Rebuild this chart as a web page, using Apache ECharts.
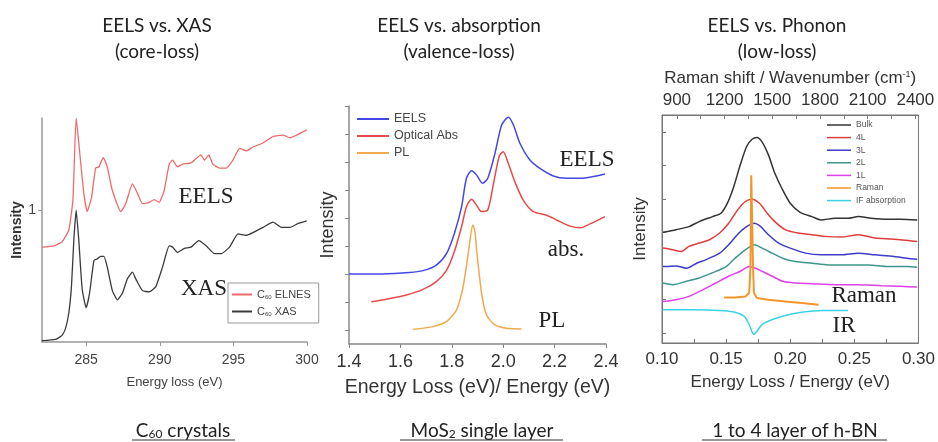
<!DOCTYPE html>
<html>
<head>
<meta charset="utf-8">
<script src="https://cdn.jsdelivr.net/npm/echarts@6/dist/echarts.min.js"></script>
<style>
  html, body { margin: 0; padding: 0; background: #fff; }
  #main { width: 938px; height: 442px; }
</style>
</head>
<body>
<div id="main"></div>
<script>
// ---- panel 1: C60 core-loss (energy loss eV, intensity) ----
const elnesE = [282.0, 282.8, 283.36, 283.82, 284.1, 284.32, 284.55, 284.84, 285.07, 285.37, 285.64, 285.87, 286.16, 286.43, 286.78, 287.35, 287.69, 288.14, 288.48, 288.82, 289.28, 289.62, 289.96, 290.3, 290.64, 290.87, 291.21, 291.55, 292.12, 292.8, 293.03, 293.33, 293.6, 294.06, 294.51, 294.97, 295.42, 295.88, 296.33, 297.01, 297.7, 298.38, 298.84, 299.29, 299.98];
const elnesI = [0.72, 0.73, 0.76, 0.85, 1.08, 1.70, 1.45, 1.13, 0.99, 1.10, 1.32, 1.33, 1.40, 1.33, 1.15, 0.99, 1.05, 1.20, 1.13, 1.05, 1.06, 1.08, 1.06, 1.15, 1.35, 1.38, 1.33, 1.35, 1.36, 1.42, 1.38, 1.42, 1.35, 1.32, 1.32, 1.38, 1.47, 1.45, 1.48, 1.51, 1.56, 1.57, 1.55, 1.57, 1.61];
const xasE = [282.0, 282.92, 283.36, 283.59, 283.82, 284.0, 284.16, 284.32, 284.5, 284.73, 285.0, 285.23, 285.53, 285.75, 285.98, 286.21, 286.43, 286.78, 287.12, 287.46, 287.8, 288.14, 288.41, 288.82, 289.28, 289.73, 290.19, 290.64, 290.87, 291.21, 291.67, 292.12, 292.65, 293.15, 293.72, 294.17, 294.74, 295.31, 295.88, 296.33, 297.01, 297.7, 298.27, 298.84, 299.4, 299.98];
const xasI = [0.01, 0.02, 0.05, 0.10, 0.22, 0.42, 0.77, 1.0, 0.77, 0.40, 0.26, 0.37, 0.62, 0.63, 0.65, 0.65, 0.57, 0.39, 0.32, 0.37, 0.48, 0.53, 0.47, 0.39, 0.38, 0.42, 0.57, 0.73, 0.72, 0.68, 0.71, 0.72, 0.77, 0.73, 0.67, 0.67, 0.72, 0.82, 0.81, 0.83, 0.87, 0.91, 0.87, 0.87, 0.90, 0.92];
const p1XTicks = [285, 290, 295, 300];

// ---- panel 2: MoS2 valence-loss ----
const mosEelsE = [1.40, 1.45, 1.53, 1.636, 1.688, 1.74, 1.78, 1.81, 1.838, 1.857, 1.877, 1.896, 1.92, 1.94, 1.968, 1.994, 2.02, 2.04, 2.065, 2.104, 2.143, 2.195, 2.247, 2.30, 2.35, 2.396];
const mosEelsI = [2.0, 2.0, 2.0, 2.05, 2.12, 2.32, 2.74, 3.45, 4.4, 5.42, 5.69, 5.54, 5.24, 5.42, 6.31, 7.32, 7.6, 7.32, 6.67, 6.07, 5.77, 5.5, 5.42, 5.42, 5.48, 5.57];
const mosAbsE = [1.487, 1.545, 1.623, 1.688, 1.74, 1.78, 1.81, 1.838, 1.857, 1.877, 1.896, 1.915, 1.94, 1.96, 1.984, 2.0, 2.02, 2.045, 2.078, 2.117, 2.169, 2.208, 2.26, 2.30, 2.338, 2.396];
const mosAbsI = [1.01, 1.1, 1.25, 1.45, 1.73, 2.14, 2.8, 3.69, 4.4, 4.67, 4.46, 4.23, 4.29, 5.12, 6.19, 6.37, 5.95, 5.3, 4.64, 4.23, 4.1, 3.93, 3.71, 3.65, 3.79, 4.05];
const mosPlE = [1.649, 1.727, 1.779, 1.818, 1.844, 1.864, 1.882, 1.89, 1.898, 1.916, 1.935, 1.968, 2.013, 2.071];
const mosPlI = [0.02, 0.12, 0.3, 0.71, 1.55, 2.74, 3.75, 3.5, 2.74, 1.31, 0.54, 0.18, 0.06, 0.04];
const p2YTicks = [0, 1, 2, 3, 4, 5, 6, 7, 8];

// ---- panel 3: h-BN low-loss ----
const bulkE = [0.1008, 0.111, 0.121, 0.129, 0.1394, 0.146, 0.151, 0.156, 0.161, 0.166, 0.170, 0.174, 0.178, 0.183, 0.188, 0.194, 0.2, 0.208, 0.217, 0.224, 0.235, 0.245, 0.253, 0.263, 0.276, 0.286, 0.299];
const bulkI = [3.0, 3.08, 3.17, 3.32, 3.47, 3.57, 3.87, 4.37, 5.01, 5.56, 5.77, 5.83, 5.70, 5.31, 4.76, 4.27, 3.87, 3.59, 3.47, 3.37, 3.42, 3.42, 3.47, 3.42, 3.39, 3.39, 3.37];
const l4E = [0.1008, 0.1085, 0.115, 0.121, 0.129, 0.137, 0.145, 0.152, 0.159, 0.165, 0.170, 0.176, 0.182, 0.188, 0.196, 0.206, 0.217, 0.227, 0.24, 0.253, 0.266, 0.279, 0.292, 0.299];
const l4I = [2.53, 2.48, 2.43, 2.58, 2.68, 2.78, 2.98, 3.27, 3.67, 3.92, 3.99, 3.87, 3.57, 3.32, 3.08, 2.98, 2.93, 2.88, 2.86, 2.93, 2.83, 2.80, 2.76, 2.73];
const l3E = [0.1008, 0.111, 0.119, 0.127, 0.134, 0.145, 0.152, 0.16, 0.166, 0.172, 0.177, 0.183, 0.191, 0.2, 0.212, 0.224, 0.24, 0.253, 0.266, 0.281, 0.291, 0.299];
const l3I = [1.98, 2.0, 1.93, 2.08, 2.18, 2.38, 2.63, 2.98, 3.17, 3.27, 3.17, 2.93, 2.68, 2.53, 2.38, 2.33, 2.33, 2.38, 2.33, 2.28, 2.23, 2.2];
const l2E = [0.1008, 0.1085, 0.119, 0.129, 0.139, 0.15, 0.157, 0.165, 0.172, 0.178, 0.186, 0.194, 0.204, 0.217, 0.23, 0.245, 0.261, 0.276, 0.291, 0.299];
const l2I = [1.49, 1.44, 1.54, 1.64, 1.79, 1.98, 2.23, 2.48, 2.63, 2.53, 2.38, 2.23, 2.13, 2.08, 2.03, 2.03, 2.03, 1.98, 1.98, 1.96];
const l1E = [0.1008, 0.111, 0.121, 0.132, 0.142, 0.152, 0.161, 0.168, 0.173, 0.178, 0.186, 0.194, 0.204, 0.217, 0.235, 0.253, 0.271, 0.286, 0.299];
const l1I = [0.94, 0.99, 1.09, 1.29, 1.49, 1.69, 1.84, 1.98, 1.93, 1.84, 1.69, 1.54, 1.49, 1.47, 1.44, 1.44, 1.41, 1.39, 1.37];
const ramanE = [0.1485, 0.157, 0.165, 0.168, 0.169, 0.1696, 0.1703, 0.171, 0.1717, 0.174, 0.183, 0.196, 0.209, 0.222];
const ramanI = [1.06, 1.06, 1.09, 1.19, 1.98, 4.7, 4.7, 1.98, 1.19, 1.04, 0.99, 0.94, 0.89, 0.84];
const irE = [0.1008, 0.124, 0.145, 0.157, 0.164, 0.168, 0.1717, 0.174, 0.178, 0.186, 0.196, 0.209, 0.225, 0.245];
const irI = [0.69, 0.69, 0.67, 0.62, 0.50, 0.25, -0.05, 0.05, 0.25, 0.40, 0.52, 0.62, 0.67, 0.67];
const p3XTicks = [0.1, 0.125, 0.15, 0.175, 0.2, 0.225, 0.25, 0.275, 0.3];
const p3XLabels = [0.1, 0.15, 0.2, 0.25, 0.3];
const p3TopTicks = [900, 1050, 1200, 1350, 1500, 1650, 1800, 1950, 2100, 2250, 2400];
const p3TopLabels = [900, 1200, 1500, 1800, 2100, 2400];
const p3YTicks = [0, 1, 2, 3, 4, 5, 6];

const pairs = (xs, ys) => xs.map((x, i) => [x, ys[i]]);

const SANS = "'Liberation Sans', Arial, sans-serif";
const NARROW = "'Liberation Sans Narrow', 'Arial Narrow', 'Liberation Sans', sans-serif";
const SERIF = "'Liberation Serif', 'Times New Roman', serif";
const TITLE = "Lato, 'Open Sans', sans-serif";

const chart = echarts.init(document.getElementById('main'));

function line(name, xi, yi, data, color, width, smooth) {
  return {
    name: name,
    type: 'line',
    xAxisIndex: xi,
    yAxisIndex: yi,
    data: data,
    showSymbol: false,
    smooth: smooth === undefined ? 0.25 : smooth,
    lineStyle: { color: color, width: width || 1.5 },
    itemStyle: { color: color },
    emphasis: { disabled: true },
    z: 3
  };
}

function text(str, x, y, font, extra) {
  return {
    type: 'text',
    x: x,
    y: y,
    style: Object.assign({
      text: str,
      font: font,
      fill: '#222',
      textAlign: 'center',
      textVerticalAlign: 'middle'
    }, extra || {})
  };
}

function underline(x1, x2, y) {
  return { type: 'line', shape: { x1: x1, y1: y, x2: x2, y2: y }, style: { stroke: '#333', lineWidth: 1.2 } };
}

const subRich = {
  a: { font: '19px ' + TITLE, fill: '#222' },
  s: { font: '12px ' + TITLE, fill: '#222', verticalAlign: 'bottom', padding: [7, 0, 0, 0] }
};

const option = {
  backgroundColor: '#fff',
  animation: false,
  grid: [
    { left: 42, top: 118, width: 265, height: 224 },
    { left: 349, top: 106, width: 257, height: 238 },
    { left: 662, top: 115, width: 259, height: 228, show: true, borderColor: '#777', borderWidth: 1, backgroundColor: 'transparent' }
  ],
  xAxis: [
    {
      gridIndex: 0, type: 'value', min: 282, max: 300,
      axisLine: { onZero: false, lineStyle: { color: '#999', width: 1.5 } },
      axisTick: { customValues: p1XTicks, length: 4, lineStyle: { color: '#999' } },
      axisLabel: { customValues: p1XTicks, margin: 11, color: '#444', fontFamily: NARROW, fontSize: 14 },
      splitLine: { show: false },
      name: 'Energy loss (eV)', nameLocation: 'middle', nameGap: 34,
      nameTextStyle: { color: '#444', fontFamily: NARROW, fontSize: 13 }
    },
    {
      gridIndex: 1, type: 'value', min: 1.4, max: 2.4, interval: 0.2,
      axisLine: { onZero: false, lineStyle: { color: '#888', width: 1.5 } },
      axisTick: { length: 4, lineStyle: { color: '#888' } },
      axisLabel: { margin: 9, color: '#333', fontFamily: SANS, fontSize: 18, formatter: v => v.toFixed(1) },
      splitLine: { show: false },
      name: 'Energy Loss (eV)/ Energy (eV)', nameLocation: 'middle', nameGap: 34,
      nameTextStyle: { color: '#333', fontFamily: SANS, fontSize: 19.5 }
    },
    {
      gridIndex: 2, type: 'value', min: 0.1, max: 0.3,
      axisLine: { onZero: false, lineStyle: { color: '#777' } },
      axisTick: { customValues: p3XTicks, inside: true, length: 4, lineStyle: { color: '#777' } },
      axisLabel: { customValues: p3XLabels, margin: 8, color: '#333', fontFamily: SANS, fontSize: 17, formatter: v => v.toFixed(2) },
      splitLine: { show: false },
      name: 'Energy Loss / Energy (eV)', nameLocation: 'middle', nameGap: 31,
      nameTextStyle: { color: '#333', fontFamily: SANS, fontSize: 17 }
    },
    {
      gridIndex: 2, type: 'value', position: 'top', min: 806.5, max: 2419.6,
      axisLine: { onZero: false, lineStyle: { color: '#777' } },
      axisTick: { customValues: p3TopTicks, inside: true, length: 4, lineStyle: { color: '#777' } },
      axisLabel: { customValues: p3TopLabels, margin: 6, color: '#333', fontFamily: SANS, fontSize: 17, formatter: v => String(v) },
      splitLine: { show: false },
      name: '{n|Raman shift / Wavenumber (cm}{p|-1}{n|)}', nameLocation: 'middle', nameGap: 27,
      nameTextStyle: {
        rich: {
          n: { color: '#333', fontFamily: SANS, fontSize: 17 },
          p: { color: '#333', fontFamily: SANS, fontSize: 9, verticalAlign: 'top', padding: [0, 0, 8, 0] }
        }
      }
    }
  ],
  yAxis: [
    {
      gridIndex: 0, type: 'value', min: 0, max: 1.7,
      axisLine: { show: true, onZero: false, lineStyle: { color: '#999', width: 1.5 } },
      axisTick: { show: true, customValues: [1], length: 4, lineStyle: { color: '#999' } },
      axisLabel: { customValues: [1], margin: 6, color: '#444', fontFamily: NARROW, fontSize: 14 },
      splitLine: { show: false },
      name: 'Intensity', nameLocation: 'middle', nameGap: 17,
      nameTextStyle: { color: '#333', fontFamily: NARROW, fontSize: 14, fontWeight: 'bold' }
    },
    {
      gridIndex: 1, type: 'value', min: -0.5, max: 8,
      axisLine: { show: true, onZero: false, lineStyle: { color: '#888', width: 1.5 } },
      axisTick: { show: true, customValues: p2YTicks, length: 4, lineStyle: { color: '#888' } },
      axisLabel: { show: false },
      splitLine: { show: false },
      name: 'Intensity', nameLocation: 'middle', nameGap: 12,
      nameTextStyle: { color: '#333', fontFamily: SANS, fontSize: 18 }
    },
    {
      gridIndex: 2, type: 'value', min: -0.3, max: 6.5,
      axisLine: { show: true, onZero: false, lineStyle: { color: '#777' } },
      axisTick: { show: true, customValues: p3YTicks, inside: true, length: 4, lineStyle: { color: '#777' } },
      axisLabel: { show: false },
      splitLine: { show: false },
      name: 'Intensity', nameLocation: 'middle', nameGap: 13,
      nameTextStyle: { color: '#333', fontFamily: SANS, fontSize: 17 }
    }
  ],
  legend: [
    {
      data: ['C60 ELNES', 'C60 XAS'],
      orient: 'vertical', left: 228, top: 283, width: 70,
      padding: [6, 8, 6, 4], itemGap: 6,
      borderColor: '#999', borderWidth: 1, backgroundColor: '#fff',
      icon: 'rect', itemWidth: 20, itemHeight: 2,
      selectedMode: false,
      formatter: name => '{t|C}{s|60}{t|' + name.slice(3) + '}',
      textStyle: {
        color: '#444',
        rich: {
          t: { fontFamily: NARROW, fontSize: 11, color: '#444' },
          s: { fontFamily: NARROW, fontSize: 6, color: '#444', verticalAlign: 'bottom', padding: [4, 0, 0, 0] }
        }
      }
    },
    {
      data: ['EELS', 'Optical Abs', 'PL'],
      orient: 'vertical', left: 357, top: 112,
      padding: 0, itemGap: 3,
      icon: 'rect', itemWidth: 32, itemHeight: 2,
      selectedMode: false,
      textStyle: { color: '#444', fontFamily: SANS, fontSize: 12.5, lineHeight: 14 }
    },
    {
      data: ['Bulk', '4L', '3L', '2L', '1L', 'Raman', 'IF absorption'],
      orient: 'vertical', left: 827, top: 120,
      padding: 0, itemGap: 2.6,
      icon: 'rect', itemWidth: 24, itemHeight: 1.5,
      selectedMode: false,
      textStyle: { color: '#555', fontFamily: SANS, fontSize: 8.5, lineHeight: 10 }
    }
  ],
  series: [
    line('C60 ELNES', 0, 0, pairs(elnesE, elnesI), '#f06a6a', 1.3, 0.15),
    line('C60 XAS', 0, 0, pairs(xasE, xasI), '#3a3a3a', 1.3, 0.15),
    line('EELS', 1, 1, pairs(mosEelsE, mosEelsI), '#4646e6'),
    line('Optical Abs', 1, 1, pairs(mosAbsE, mosAbsI), '#e64a4a'),
    line('PL', 1, 1, pairs(mosPlE, mosPlI), '#f2a84e'),
    line('Bulk', 2, 2, pairs(bulkE, bulkI), '#333333'),
    line('4L', 2, 2, pairs(l4E, l4I), '#e03c3c'),
    line('3L', 2, 2, pairs(l3E, l3I), '#3c3cc8'),
    line('2L', 2, 2, pairs(l2E, l2I), '#3c968c'),
    line('1L', 2, 2, pairs(l1E, l1I), '#e040e8'),
    line('Raman', 2, 2, pairs(ramanE, ramanI), '#f0962a', 2, false),
    line('IF absorption', 2, 2, pairs(irE, irI), '#3cd2e6')
  ],
  graphic: [
    text('EELS vs. XAS', 157, 26, '19px ' + TITLE),
    text('(core-loss)', 157, 52, '19px ' + TITLE),
    text('EELS vs. absorption', 459, 26, '19px ' + TITLE),
    text('(valence-loss)', 459, 52, '19px ' + TITLE),
    text('EELS vs. Phonon', 777, 26, '19px ' + TITLE),
    text('(low-loss)', 777, 52, '19px ' + TITLE),

    text('EELS', 206, 197, '23px ' + SERIF),
    text('XAS', 204, 289, '23px ' + SERIF),
    text('EELS', 587, 160, '23px ' + SERIF),
    text('abs.', 566, 250, '23px ' + SERIF),
    text('PL', 552, 321, '23px ' + SERIF),
    text('Raman', 864, 296, '23px ' + SERIF),
    text('IR', 844, 326, '23px ' + SERIF),

    text('{a|C}{s|60}{a| crystals}', 183, 431, '19px ' + TITLE, { rich: subRich }),
    underline(132, 235, 440),
    text('{a|MoS}{s|2}{a| single layer}', 482, 431, '19px ' + TITLE, { rich: subRich }),
    underline(400, 563, 440),
    text('1 to 4 layer of h-BN', 795, 431, '19px ' + TITLE),
    underline(702, 887, 440)
  ]
};

chart.setOption(option);
</script>
</body>
</html>
